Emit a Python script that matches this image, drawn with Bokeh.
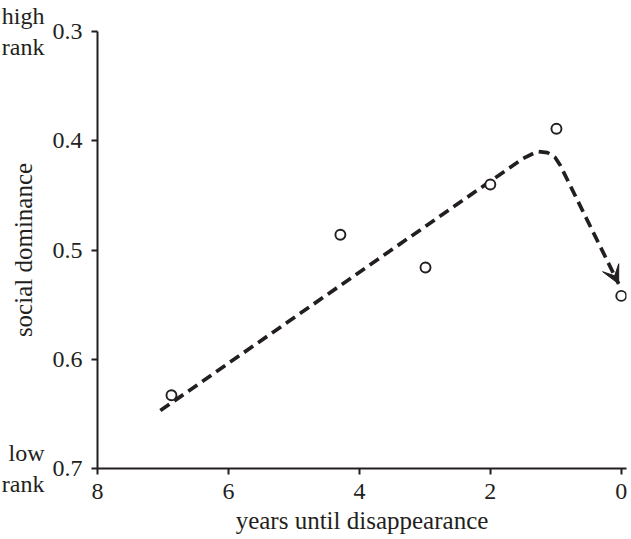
from bokeh.plotting import figure
from bokeh.models import Range1d, FixedTicker, Arrow, VeeHead, LinearAxis
from bokeh.embed import file_html
from bokeh.resources import INLINE

# observed points (years until disappearance, social dominance)
years = [6.87, 4.29, 2.99, 2.0, 0.99, 0.0]
dominance = [0.633, 0.486, 0.516, 0.440, 0.389, 0.542]

# hand-drawn trend path
trend_x = [7.04, 1.50, 1.28, 1.13, 1.01, 0.93, 0.04]
trend_y = [0.647, 0.4162, 0.4098, 0.4108, 0.4153, 0.4227, 0.531]

x_ticks = [8, 6, 4, 2, 0]
y_ticks = [0.3, 0.4, 0.5, 0.6, 0.7]
rank_ticks = [0.3, 0.7]
rank_labels = {0.3: "high\nrank", 0.7: "low\nrank"}

FONT = "Liberation Serif"
INK = "#231f20"

p = figure(width=631, height=539, output_backend="svg", toolbar_location=None,
           x_range=Range1d(8, -0.08), y_range=Range1d(0.7, 0.3),
           min_border_left=97, min_border_right=5, min_border_top=31, min_border_bottom=71)
p.outline_line_color = None
p.xgrid.visible = False
p.ygrid.visible = False

# extra left axis carrying the rank hints and the y title
rank_axis = LinearAxis(ticker=FixedTicker(ticks=rank_ticks),
                       major_label_overrides=rank_labels)
p.add_layout(rank_axis, "left")

for ax in (p.xaxis[0], p.yaxis[0], rank_axis):
    ax.axis_line_width = 2
    ax.axis_line_color = INK
    ax.major_tick_line_width = 2
    ax.major_tick_line_color = INK
    ax.major_tick_out = 6
    ax.major_tick_in = 0
    ax.minor_tick_line_color = None
    ax.major_label_text_font = FONT
    ax.major_label_text_font_size = "24px"
    ax.major_label_text_color = INK
    ax.axis_label_text_font = FONT
    ax.axis_label_text_font_size = "25px"
    ax.axis_label_text_font_style = "normal"
    ax.axis_label_text_color = INK

rank_axis.axis_line_color = None
rank_axis.major_tick_line_color = None
rank_axis.major_tick_out = 0
rank_axis.major_label_standoff = 5
rank_axis.axis_label = "social dominance"
rank_axis.axis_label_standoff = -38

p.xaxis[0].ticker = FixedTicker(ticks=x_ticks)
p.yaxis[0].ticker = FixedTicker(ticks=y_ticks)
p.xaxis[0].axis_label = "years until disappearance"
p.xaxis[0].major_label_standoff = 9
p.yaxis[0].major_label_standoff = 9
p.xaxis[0].axis_label_standoff = 5

p.line(trend_x, trend_y, line_color=INK, line_width=3.7, line_dash="11 6")
p.add_layout(Arrow(end=VeeHead(size=18, fill_color=INK, line_color=INK),
                   x_start=trend_x[-2], y_start=trend_y[-2],
                   x_end=trend_x[-1], y_end=trend_y[-1], line_alpha=0))

p.scatter(years, dominance, size=10, marker="circle", line_color=INK,
          line_width=1.9, fill_color="white")

open("out.html", "w").write(file_html(p, INLINE))
